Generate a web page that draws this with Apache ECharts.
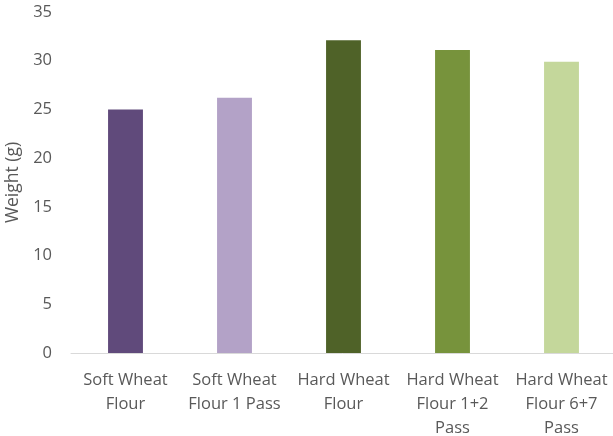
<!DOCTYPE html>
<html>
<head>
<meta charset="utf-8">
<script src="https://cdn.jsdelivr.net/npm/echarts@6/dist/echarts.min.js"></script>
<style>
  html, body { margin: 0; padding: 0; background: #fff; }
  #chart { width: 613px; height: 436px; }
</style>
</head>
<body>
<div id="chart"></div>
<script>
// Flour samples and their measured weights (g)
const categories = [
  'Soft Wheat\nFlour',
  'Soft Wheat\nFlour 1 Pass',
  'Hard Wheat\nFlour',
  'Hard Wheat\nFlour 1+2\nPass',
  'Hard Wheat\nFlour 6+7\nPass'
];
const weights = [25.0, 26.2, 32.1, 31.1, 29.9];
const barColors = ['#604a7b', '#b3a2c7', '#4f6228', '#77933c', '#c4d79b'];
const yTicks = { min: 0, max: 35, interval: 5 };

const chart = echarts.init(document.getElementById('chart'));
const font = 'Open Sans, Liberation Sans, sans-serif';

chart.setOption({
  animation: false,
  grid: {
    left: 71, top: 12, width: 545, height: 341,
    containLabel: false,
    outerBoundsMode: 'none'
  },
  xAxis: {
    type: 'category',
    data: categories,
    axisLine: { lineStyle: { color: '#d9d9d9', width: 1 } },
    axisTick: { show: false },
    axisLabel: {
      color: '#595959',
      fontFamily: font,
      fontSize: 16.5,
      lineHeight: 24,
      margin: 15,
      interval: 0
    }
  },
  yAxis: {
    type: 'value',
    min: yTicks.min,
    max: yTicks.max,
    interval: yTicks.interval,
    name: 'Weight (g)',
    nameLocation: 'middle',
    nameGap: 46,
    nameTextStyle: { color: '#595959', fontFamily: font, fontSize: 17.5 },
    axisLine: { show: false },
    axisTick: { show: false },
    splitLine: { show: false },
    axisLabel: { color: '#595959', fontFamily: font, fontSize: 16.5, margin: 19 }
  },
  series: [{
    type: 'bar',
    barWidth: '32%',
    data: weights.map((v, i) => ({ value: v, itemStyle: { color: barColors[i] } }))
  }]
});
</script>
</body>
</html>
